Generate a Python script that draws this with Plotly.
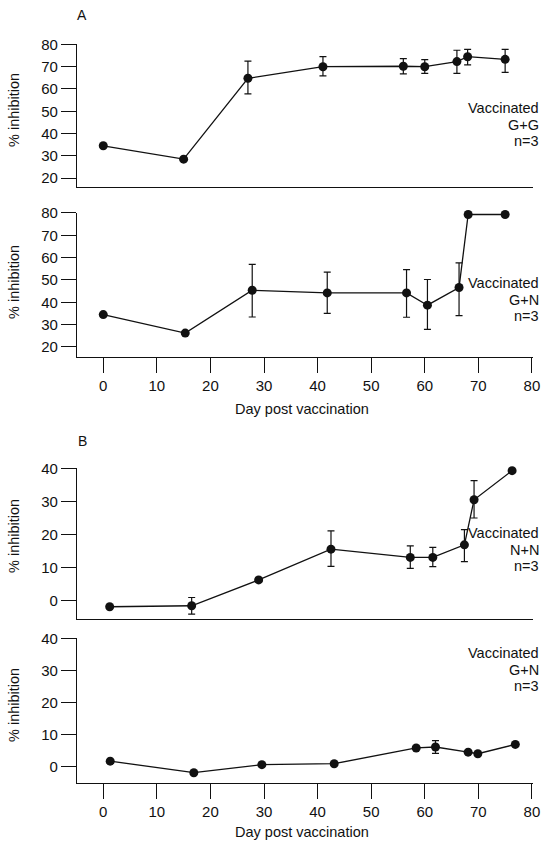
import plotly.graph_objects as go

# ---------------- data ----------------
days_A1 = [0, 15, 27, 41, 56, 60, 66, 68, 75]
vals_A1 = [34.5, 28.5, 64.8, 70.0, 70.2, 70.0, 72.3, 74.5, 73.3]
errp_A1 = [0, 0, 7.7, 4.5, 3.4, 3.2, 5.1, 3.3, 4.5]
errm_A1 = [0, 0, 7.0, 4.1, 3.4, 3.0, 5.3, 3.7, 5.8]

days_A2 = [0, 15.3, 27.8, 41.8, 56.6, 60.5, 66.4, 68.1, 75.0]
vals_A2 = [34.5, 26.2, 45.4, 44.2, 44.2, 38.7, 46.6, 79.3, 79.3]
errp_A2 = [0, 0, 11.6, 9.3, 10.4, 11.5, 11.0, 0, 0]
errm_A2 = [0, 0, 12.0, 9.2, 10.9, 10.8, 12.6, 0, 0]

days_B1 = [1.2, 16.5, 29.0, 42.5, 57.3, 61.5, 67.4, 69.2, 76.3]
vals_B1 = [-1.8, -1.5, 6.3, 15.6, 13.1, 13.1, 16.9, 30.5, 39.3]
errp_B1 = [0, 2.5, 0.6, 5.5, 3.5, 3.0, 4.6, 5.8, 0]
errm_B1 = [0, 2.5, 0.6, 5.2, 3.3, 2.8, 5.1, 5.5, 0]

days_B2 = [1.3, 16.9, 29.6, 43.1, 58.4, 62.0, 68.1, 69.9, 76.9]
vals_B2 = [1.8, -1.8, 0.7, 1.0, 5.9, 6.2, 4.6, 4.1, 7.0]
errp_B2 = [0, 0, 0, 0, 0, 2.0, 0, 0, 0]
errm_B2 = [0, 0, 0, 0, 0, 2.0, 0, 0, 0]

x_ticks = [0, 10, 20, 30, 40, 50, 60, 70, 80]
y_ticks_A = [20, 30, 40, 50, 60, 70, 80]
y_ticks_B = [0, 10, 20, 30, 40]

panel_labels = ["A", "B"]
group_labels = [["Vaccinated", "G+G", "n=3"], ["Vaccinated", "G+N", "n=3"],
                ["Vaccinated", "N+N", "n=3"], ["Vaccinated", "G+N", "n=3"]]
y_title = "% inhibition"
x_title = "Day post vaccination"

# ---------------- layout geometry (pixels) ----------------
W, H = 543, 843
FONT = "Liberation Sans, Arial, Helvetica, sans-serif"
INK = "#111111"

def py(p):
    return 1 - p / H

def px(p):
    return p / W

panels = [
    dict(days=days_A1, vals=vals_A1, ep=errp_A1, em=errm_A1, top=44, bot=187,
         yr=[16, 80.2], yt=y_ticks_A, xlab=False),
    dict(days=days_A2, vals=vals_A2, ep=errp_A2, em=errm_A2, top=212.5, bot=357,
         yr=[15.5, 80.2], yt=y_ticks_A, xlab=True),
    dict(days=days_B1, vals=vals_B1, ep=errp_B1, em=errm_B1, top=468, bot=619,
         yr=[-5.5, 40.1], yt=y_ticks_B, xlab=False),
    dict(days=days_B2, vals=vals_B2, ep=errp_B2, em=errm_B2, top=638, bot=783,
         yr=[-5, 40.1], yt=y_ticks_B, xlab=True),
]

fig = go.Figure()
layout = dict(width=W, height=H, margin=dict(l=0, r=0, t=0, b=0),
              paper_bgcolor="white", plot_bgcolor="white", showlegend=False,
              font=dict(family=FONT, color=INK, size=15))

xdom = [px(77), px(533)]
for i, p in enumerate(panels):
    n = "" if i == 0 else str(i + 1)
    fig.add_trace(go.Scatter(
        x=p["days"], y=p["vals"], mode="lines+markers",
        xaxis="x" + n, yaxis="y" + n, cliponaxis=False,
        line=dict(color=INK, width=1.3),
        marker=dict(color=INK, size=9),
        error_y=dict(type="data", symmetric=False, array=p["ep"], arrayminus=p["em"],
                     color=INK, thickness=1.2, width=3.5),
    ))
    layout["xaxis" + n] = dict(
        domain=xdom, range=[-4.9, 80.2], anchor="y" + n,
        showline=True, linecolor=INK, linewidth=1.3, showgrid=False, zeroline=False,
        ticks="outside" if p["xlab"] else "", ticklen=15, tickwidth=1.3, tickcolor=INK,
        tickvals=x_ticks, showticklabels=p["xlab"], tickfont=dict(size=15),
        automargin=False,
    )
    layout["yaxis" + n] = dict(
        domain=[py(p["bot"]), py(p["top"])], range=p["yr"], anchor="x" + n,
        showline=True, linecolor=INK, linewidth=1.3, showgrid=False, zeroline=False,
        ticks="outside", ticklen=15, tickwidth=1.3, tickcolor=INK,
        tickvals=p["yt"], tickfont=dict(size=15), automargin=False,
    )

fig.update_layout(**layout)

ann = []
# panel letters
for lab, yy in zip(panel_labels, [15, 441]):
    ann.append(dict(text=lab, x=px(82), y=py(yy), xref="paper", yref="paper",
                    xanchor="center", yanchor="middle", showarrow=False,
                    font=dict(size=14)))
# y titles
for yy in [110, 282, 536, 705]:
    ann.append(dict(text=y_title, x=px(14), y=py(yy), xref="paper", yref="paper",
                    xanchor="center", yanchor="middle", showarrow=False,
                    textangle=-90, font=dict(size=14.5)))
# x titles
for yy in [409, 832]:
    ann.append(dict(text=x_title, x=px(302), y=py(yy), xref="paper", yref="paper",
                    xanchor="center", yanchor="middle", showarrow=False,
                    font=dict(size=14.5)))
# group labels
for lines, y0 in zip(group_labels, [108, 283, 533, 653]):
    for k, t in enumerate(lines):
        ann.append(dict(text=t, x=px(541), y=py(y0 + 16.5 * k), xref="paper", yref="paper",
                        xanchor="right", yanchor="middle", showarrow=False,
                        font=dict(size=14.5)))
fig.update_layout(annotations=ann)

fig.write_html("out.html")
